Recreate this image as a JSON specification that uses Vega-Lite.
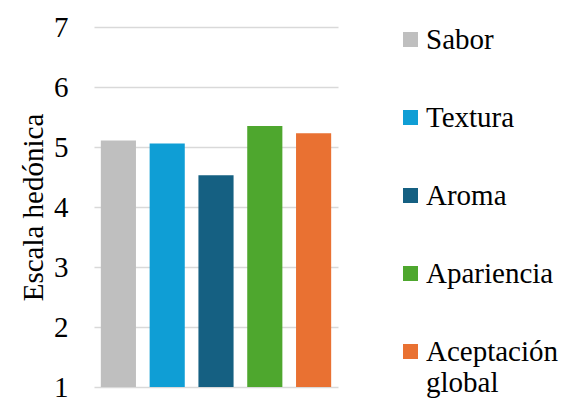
{
  "$schema": "https://vega.github.io/schema/vega-lite/v6.json",
  "autosize": {"type": "none"},
  "padding": {"left": 94, "top": 27, "right": 245, "bottom": 20},
  "width": 244,
  "height": 360,
  "background": "white",
  "config": {
    "view": {"stroke": null},
    "font": "Times New Roman, Liberation Serif, serif"
  },
  "data": {"values": [
    {"atributo": "Sabor", "valor": 5.11},
    {"atributo": "Textura", "valor": 5.06},
    {"atributo": "Aroma", "valor": 4.53},
    {"atributo": "Apariencia", "valor": 5.35},
    {"atributo": "Aceptación global", "valor": 5.23}
  ]},
  "mark": {"type": "bar", "clip": true},
  "encoding": {
    "x": {
      "field": "atributo", "type": "nominal",
      "scale": {
        "domain": ["Sabor", "Textura", "Aroma", "Apariencia", "Aceptación global"],
        "paddingInner": 0.28, "paddingOuter": 0.14
      },
      "axis": null
    },
    "y": {
      "field": "valor", "type": "quantitative",
      "scale": {"domain": [1, 7], "nice": false, "zero": false},
      "axis": {
        "values": [1, 2, 3, 4, 5, 6, 7],
        "grid": true, "gridColor": "#d9d9d9", "gridWidth": 1.3,
        "domain": false, "ticks": false, "tickSize": 0,
        "labelPadding": 26,
        "labelFont": "Times New Roman, Liberation Serif, serif", "labelFontSize": 29, "labelColor": "#000000",
        "title": "Escala hedónica",
        "titleFont": "Times New Roman, Liberation Serif, serif", "titleFontSize": 29, "titleFontWeight": "normal", "titleColor": "#000000",
        "titlePadding": 5
      }
    },
    "color": {
      "field": "atributo", "type": "nominal",
      "scale": {
        "domain": ["Sabor", "Textura", "Aroma", "Apariencia", "Aceptación global"],
        "range": ["#BFBFBF", "#0F9ED5", "#156082", "#4EA72E", "#E97132"]
      },
      "legend": {
        "title": null,
        "orient": "none",
        "legendX": 302,
        "legendY": -2,
        "padding": 0,
        "symbolType": "square",
        "symbolSize": 225,
        "symbolStrokeWidth": 0,
        "symbolOpacity": 1,
        "labelFont": "Times New Roman, Liberation Serif, serif",
        "labelFontSize": 29,
        "labelColor": "#000000",
        "labelLimit": 300,
        "labelOffset": 1,
        "rowPadding": 48,
        "labelExpr": "datum.label == 'Aceptación global' ? ['Aceptación', 'global'] : datum.label"
      }
    }
  }
}
